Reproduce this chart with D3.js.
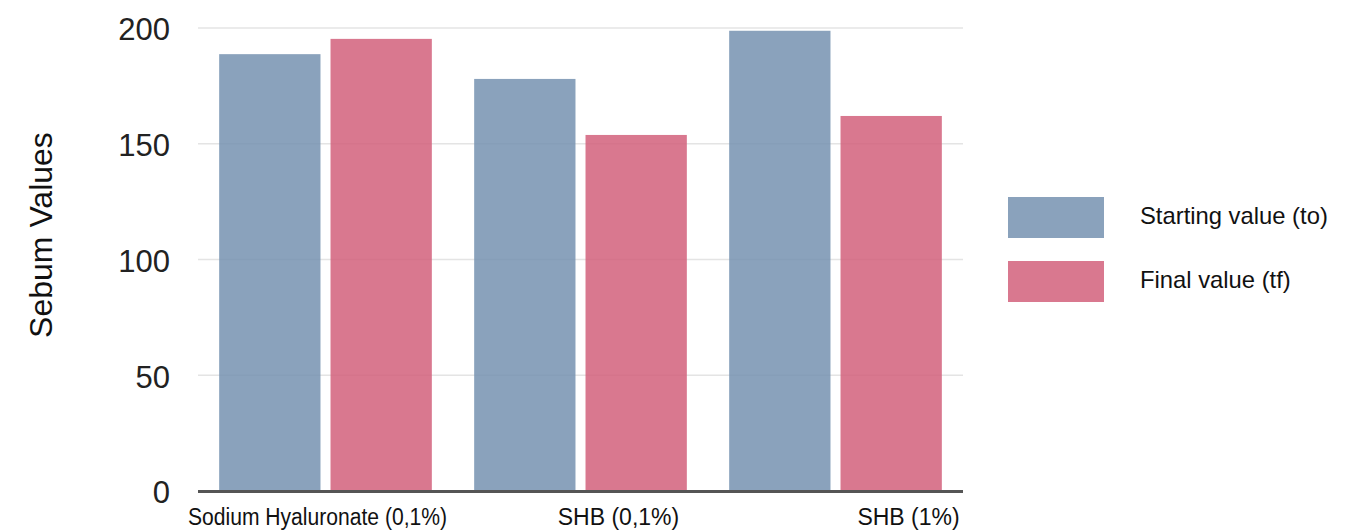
<!DOCTYPE html>
<html><head><meta charset="utf-8">
<script src="https://cdn.jsdelivr.net/npm/d3@7"></script>
<style>
html,body{margin:0;padding:0;background:#fff;}
text{font-family:"Liberation Sans",Arial,Helvetica,sans-serif;}
</style></head>
<body><svg id="c" width="1367" height="531"></svg>
<script>
const categories = ["Sodium Hyaluronate (0,1%)", "SHB (0,1%)", "SHB (1%)"];
const seriesNames = ["Starting value (to)", "Final value (tf)"];
const startValues = [188.7, 178, 198.8];
const finalValues = [195.3, 153.8, 162];
const yTicks = [0, 50, 100, 150, 200];

const colors = ["rgb(117,146,176)", "rgb(210,96,123)"];
const labelDx = [-8, 38, 73];

const svg = d3.select("#c");
const plotLeft = 198, plotRight = 963, plotTop = 28, plotBottom = 491;

const y = d3.scaleLinear().domain([0, 200]).range([plotBottom, plotTop]);
const x0 = d3.scaleBand().domain(categories).range([plotLeft, plotRight]).padding(0);
const x1 = d3.scaleBand().domain(seriesNames).range([0, x0.bandwidth()]).paddingInner(0.09).paddingOuter(0.19);

// gridlines
svg.append("g").selectAll("line").data(yTicks.filter(d => d > 0)).join("line")
  .attr("x1", plotLeft).attr("x2", plotRight)
  .attr("y1", d => y(d)).attr("y2", d => y(d))
  .attr("stroke", "#e4e4e4").attr("stroke-width", 1.5);

// tick labels
svg.append("g").selectAll("text").data(yTicks).join("text")
  .attr("x", 170).attr("y", d => y(d)).attr("dy", "0.4em")
  .attr("text-anchor", "end").attr("font-size", 31).attr("fill", "#222")
  .text(d => d);

const rows = categories.map((c, i) => ({cat: c, vals: [startValues[i], finalValues[i]]}));
const g = svg.append("g").selectAll("g").data(rows).join("g")
  .attr("transform", d => `translate(${x0(d.cat)},0)`);
g.selectAll("rect").data(d => d.vals.map((v, j) => ({s: seriesNames[j], v, j}))).join("rect")
  .attr("x", d => x1(d.s)).attr("width", x1.bandwidth())
  .attr("y", d => y(d.v)).attr("height", d => y(0) - y(d.v))
  .attr("fill", d => colors[d.j]).attr("fill-opacity", 0.85);

// axis line
svg.append("line").attr("x1", plotLeft).attr("x2", plotRight).attr("y1", plotBottom + 0.5).attr("y2", plotBottom + 0.5)
  .attr("stroke", "#555").attr("stroke-width", 3);

// x labels
svg.append("g").selectAll("text").data(categories).join("text")
  .attr("x", (d, i) => x0(d) + x0.bandwidth() / 2 + labelDx[i]).attr("y", 525)
  .attr("text-anchor", "middle").attr("font-size", 23).attr("fill", "#111")
  .each(function(d, i) { if (i === 0) d3.select(this).attr("textLength", 259).attr("lengthAdjust", "spacingAndGlyphs"); })
  .text(d => d);

// y label
svg.append("text").attr("transform", "translate(52,235) rotate(-90)")
  .attr("text-anchor", "middle").attr("font-size", 32).attr("fill", "#111")
  .text("Sebum Values");

// legend
const lg = svg.append("g").selectAll("g").data(seriesNames).join("g")
  .attr("transform", (d, i) => `translate(1008,${197 + i * 64})`);
lg.append("rect").attr("width", 96).attr("height", 41)
  .attr("fill", (d, i) => colors[i]).attr("fill-opacity", 0.85);
lg.append("text").attr("x", 132).attr("y", 27).attr("font-size", 23.8).attr("fill", "#111")
  .text(d => d);
</script></body></html>
